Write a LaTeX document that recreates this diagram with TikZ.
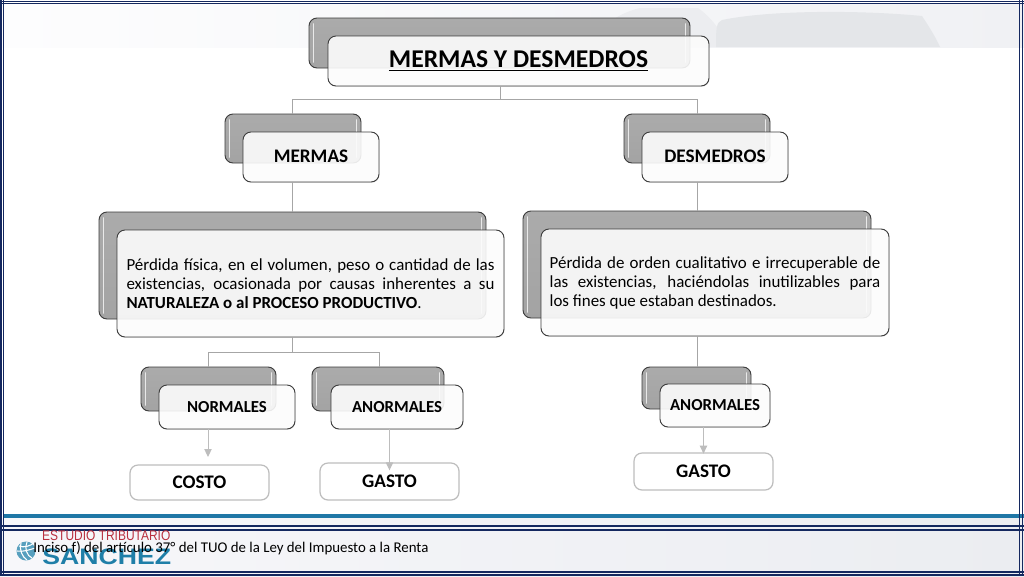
\documentclass[tikz,border=0pt]{standalone}
\usepackage{fontspec}
\setmainfont{Carlito}
\newfontfamily\logofont{Liberation Sans}
\usetikzlibrary{arrows.meta,shadows}
\definecolor{navyline}{HTML}{14285F}
\definecolor{tealline}{HTML}{1F77A6}
\definecolor{linkgrey}{HTML}{A6A6A6}
\definecolor{arrowgrey}{HTML}{BDBDBD}
\definecolor{edgegrey}{HTML}{3C3C3C}
\definecolor{logored}{HTML}{B9303F}
\definecolor{logoblue}{HTML}{1F7FA8}
\definecolor{bandleft}{HTML}{FDFDFE}
\definecolor{bandright}{HTML}{F0F1F4}
\definecolor{swoosh}{HTML}{E4E6E9}
\definecolor{footleft}{HTML}{F7F7FA}
\definecolor{footright}{HTML}{EBEDF1}
\colorlet{a6top}{black!33}
\colorlet{a6bot}{black!36}
\tikzset{
  backbox/.style={draw=edgegrey,line width=0.7pt,rounded corners=6pt,top color=a6top,bottom color=a6bot,inner sep=0pt,outer sep=0pt},
  frontbox/.style={draw=edgegrey,line width=0.7pt,rounded corners=6pt,fill=white,fill opacity=0.88,text opacity=1,inner sep=0pt,outer sep=0pt,align=center,drop shadow={shadow xshift=0.4pt,shadow yshift=-0.6pt,opacity=0.18}},
  leafbox/.style={draw=arrowgrey,line width=0.9pt,rounded corners=6pt,fill=white,inner sep=0pt,outer sep=0pt,align=center,font=\fontsize{14.4}{16}\selectfont\bfseries},
  link/.style={draw=linkgrey,line width=0.75pt},
  leafarrow/.style={draw=arrowgrey,line width=0.75pt,-{Triangle[length=6pt,width=5.5pt]}},
  gloss/.style={draw=white,draw opacity=0.75,line width=1.4pt,line cap=round},
  framenavy/.style={draw=navyline,line width=0.95pt}
}
% \boxat{style}{name}{x0}{y0}{x1}{y1}{text}
\newcommand{\boxat}[7]{\node[#1,minimum width={(#5-#3)*0.75pt},minimum height={(#6-#4)*0.75pt}] (#2) at ({(#3+#5)/2},{(#4+#6)/2}) {#7};}
% back plate with the light inner bars at its two sides
\newcommand{\backat}[5]{\boxat{backbox}{#1}{#2}{#3}{#4}{#5}{}
  \draw[gloss] ({#2+4.5},{#3+6}) -- ({#2+4.5},{#5-6});
  \draw[gloss] ({#4-4.5},{#3+6}) -- ({#4-4.5},{#5-6});}
\newcommand{\descfont}{\fontsize{12.7}{14.25}\selectfont\hyphenpenalty=10000 }
\begin{document}
\begin{tikzpicture}[x=0.75pt,y=-0.75pt]
\useasboundingbox (0,0) rectangle (1024,576);
% background
\fill[white] (0,0) rectangle (1024,576);
\shade[left color=bandleft,right color=bandright] (0,4) rectangle (1024,47);
\fill[swoosh!70!white] (590,47) .. controls (596,30) and (615,14) .. (640,8) -- (698,8) .. controls (712,18) and (722,32) .. (728,47) -- cycle;
\fill[swoosh] (716,47) .. controls (716,30) and (716,22) .. (722,20) .. controls (770,10) and (860,10) .. (922,16) .. controls (930,28) and (936,38) .. (940,47) -- cycle;
\shade[left color=footleft,right color=footright] (0,518) rectangle (1024,576);
% frame
\draw[tealline,line width=2.4pt] (3,516) -- (1024,516);
\draw[framenavy] (0,526) -- (1024,526);
\draw[framenavy] (0,530) -- (1024,530);
\draw[framenavy] (0,1.2) -- (1024,1.2);
\draw[framenavy] (0,3.8) -- (1024,3.8);
\draw[framenavy] (0,572) -- (1024,572);
\draw[framenavy] (0,575) -- (1024,575);
\draw[framenavy] (1,0) -- (1,576);
\draw[framenavy] (3.5,0) -- (3.5,576);
\draw[framenavy] (1019.5,0) -- (1019.5,576);
\draw[framenavy] (1022.5,0) -- (1022.5,576);
% logo
\node[anchor=west,inner sep=0pt,text=logored,font=\logofont\fontsize{10.5}{11}\selectfont,xscale=0.855] (logotop) at (42,535.5) {ESTUDIO TRIBUTARIO};
\node[anchor=west,inner sep=0pt,text=logoblue,font=\logofont\bfseries\fontsize{16.8}{18}\selectfont,xscale=1.19] (logoname) at (42,557) {SANCHEZ};
\fill[logoblue!75] (26,551) circle[radius=9.5];
\begin{scope}[draw=white,line width=0.8pt]
\draw (19,546) .. controls (24,548) and (30,546) .. (34,543);
\draw (17,551) .. controls (23,552) and (29,550) .. (35,548);
\draw (21,543) .. controls (19,549) and (22,557) .. (27,560);
\draw (27,542) .. controls (24,548) and (27,556) .. (32,558);
\end{scope}
% back plates
\backat{titleback}{309}{18}{690}{68}
\backat{mermasback}{225}{114}{361}{163}
\backat{desmback}{624}{114}{770}{163}
\backat{defaback}{99}{212}{486}{319}
\backat{defbback}{523}{211}{871}{318}
\backat{normback}{141}{367}{276}{411}
\backat{anorback}{312}{367}{444}{411}
\backat{anorrback}{642}{367}{751}{409}
% front boxes
\boxat{frontbox}{title}{328}{36}{709}{86}{\raisebox{-0.7pt}{\fontsize{19.2}{22}\selectfont\bfseries\underline{MERMAS Y DESMEDROS}}}
\boxat{frontbox}{mermas}{243}{132}{379}{182}{\raisebox{0.7pt}{\fontsize{14.4}{16}\selectfont\bfseries MERMAS}}
\boxat{frontbox}{desm}{642}{132}{788}{182}{\raisebox{0.7pt}{\fontsize{14.4}{16}\selectfont\bfseries DESMEDROS}}
\boxat{frontbox}{defa}{117}{230}{504}{337}{\raisebox{0.7pt}{\parbox{276pt}{\descfont P\'erdida f\'isica, en el volumen, peso o cantidad de las\linebreak existencias, ocasionada por causas inherentes a su\linebreak \textbf{NATURALEZA o al PROCESO PRODUCTIVO}.}}}
\boxat{frontbox}{defb}{541}{229}{889}{336}{\raisebox{-1.4pt}{\parbox{248pt}{\descfont P\'erdida de orden cualitativo e irrecuperable de\linebreak las existencias, haci\'endolas inutilizables para\linebreak los fines que estaban destinados.}}}
\boxat{frontbox}{norm}{159}{385}{295}{429}{\fontsize{12.6}{14}\selectfont\bfseries NORMALES}
\boxat{frontbox}{anor}{331}{385}{463}{429}{\fontsize{12.6}{14}\selectfont\bfseries ANORMALES}
\boxat{frontbox}{anorr}{660}{384}{770}{427}{\raisebox{-0.7pt}{\fontsize{12.6}{14}\selectfont\bfseries ANORMALES}}
% leaves
\boxat{leafbox}{costo}{130}{465}{269}{500}{\raisebox{-0.7pt}{COSTO}}
\boxat{leafbox}{gastoa}{320}{463}{459}{500}{\raisebox{-0.7pt}{GASTO}}
\boxat{leafbox}{gastob}{634}{453}{773}{490}{GASTO}
% connectors
\coordinate (busa) at (500,99);
\coordinate (busb) at (292,352);
\coordinate (busc) at (379,352);
\coordinate (busr) at (697,99);
\coordinate (tipa) at (208,457);
\draw[link] (title.south -| busa) -- (busa);
\draw[link] (busa) -| (mermasback.north -| busb);
\draw[link] (busa) -| (desmback.north -| busr);
\draw[link] (mermas.south -| busb) -- (defaback.north -| busb);
\draw[link] (desm.south -| busr) -- (defbback.north -| busr);
\draw[link] (defa.south -| busb) -- (busb);
\draw[link] (busb) -| (normback.north -| tipa);
\draw[link] (busb) -| (anorback.north -| busc);
\draw[link] (defb.south -| busr) -- (anorrback.north -| busr);
\draw[leafarrow] (norm.south -| tipa) -- (tipa);
\draw[leafarrow] (anor.south -| gastoa.north) -- ([yshift=-5.5pt]gastoa.north);
\draw[leafarrow] (anorr.south -| gastob.north) -- ([yshift=-0.5pt]gastob.north);
% footer note
\node[anchor=west,inner sep=0pt,font=\fontsize{11.15}{13}\selectfont] (note) at (33,548) {Inciso f) del art\'iculo 37° del TUO de la Ley del Impuesto a la Renta};
\end{tikzpicture}
\end{document}
